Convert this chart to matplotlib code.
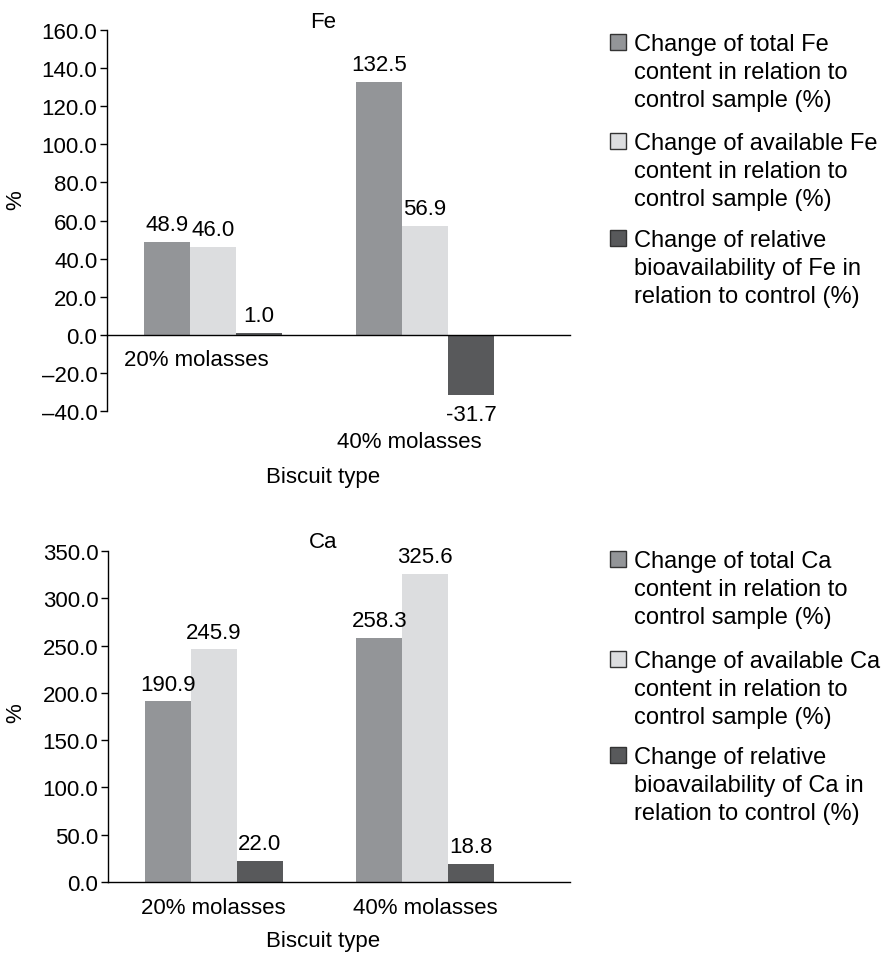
import numpy as np
import matplotlib.pyplot as plt
from matplotlib.patches import Rectangle

plt.rcParams['font.family'] = ['Liberation Sans', 'DejaVu Sans']
plt.rcParams['font.size'] = 16

categories = ['20% molasses', '40% molasses']
colors = ['#939598', '#dcdddf', '#58595b']

fe_total = [48.9, 132.5]
fe_available = [46.0, 56.9]
fe_relative = [1.0, -31.7]
fe_labels = ['Change of total Fe\ncontent in relation to\ncontrol sample (%)',
             'Change of available Fe\ncontent in relation to\ncontrol sample (%)',
             'Change of relative\nbioavailability of Fe in\nrelation to control (%)']

ca_total = [190.9, 258.3]
ca_available = [245.9, 325.6]
ca_relative = [22.0, 18.8]
ca_labels = ['Change of total Ca\ncontent in relation to\ncontrol sample (%)',
             'Change of available Ca\ncontent in relation to\ncontrol sample (%)',
             'Change of relative\nbioavailability of Ca in\nrelation to control (%)']

W, H = 887, 954
fig = plt.figure(figsize=(W / 100, H / 100), dpi=100)


def fx(px):
    return px / W


def fy(py):
    return 1 - py / H


def draw_bars(ax, series):
    x = np.arange(len(categories))
    w = 0.217
    for k, vals in enumerate(series):
        bars = ax.bar(x + (k - 1) * w, vals, w, color=colors[k], linewidth=0)
        for b, v in zip(bars, vals):
            if v >= 0:
                ax.annotate('%.1f' % v, (b.get_x() + b.get_width() / 2, v),
                            xytext=(0, 5), textcoords='offset points',
                            ha='center', va='bottom')
            else:
                ax.annotate('%.1f' % v, (b.get_x() + b.get_width() / 2, v),
                            xytext=(0, -6), textcoords='offset points',
                            ha='center', va='top')
    ax.set_xlim(-0.5, 1.684)
    for s in ['top', 'right']:
        ax.spines[s].set_visible(False)
    ax.spines['bottom'].set_position(('data', 0))
    ax.spines['left'].set_linewidth(1.0)
    ax.spines['bottom'].set_linewidth(1.0)
    ax.tick_params(axis='y', length=5, width=1.0, direction='out', pad=2)
    ax.yaxis.set_major_formatter(plt.FuncFormatter(lambda v, p: ('%.1f' % v).replace('-', '\u2013')))


def draw_legend(labels, baselines):
    # baseline of the first line of each entry, in pixels from top
    for k, (lab, yb) in enumerate(zip(labels, baselines)):
        fig.add_artist(Rectangle((fx(610), fy(yb + 1)), fx(626) - fx(610), (16 / H),
                                 transform=fig.transFigure, facecolor=colors[k],
                                 edgecolor='#333333', linewidth=1.0))
        fig.text(fx(634), fy(yb - 16), lab, ha='left', va='top', fontsize=17,
                 linespacing=1.36)


# Fe
ax1 = fig.add_axes([fx(107), fy(412), fx(570) - fx(107), (412 - 31) / H])
draw_bars(ax1, [fe_total, fe_available, fe_relative])
ax1.set_ylim(-40, 160)
ax1.set_yticks(np.arange(-40, 161, 20))
ax1.set_xticks([])
ax1.text(0 - 0.08, -7.6, categories[0], ha='center', va='top')
ax1.text(1 - 0.075, -50.5, categories[1], ha='center', va='top')
ax1.text(0.4665, 1.021, 'Fe', transform=ax1.transAxes, ha='center', va='center')
ax1.text(-0.197, 0.556, '%', transform=ax1.transAxes, ha='center', va='center', rotation=90)
ax1.set_xlabel('Biscuit type')
ax1.xaxis.set_label_coords(0.4665, -0.144)
draw_legend(fe_labels, [50, 149, 246])

# Ca
ax2 = fig.add_axes([fx(108), fy(883), fx(570) - fx(108), (883 - 552) / H])
draw_bars(ax2, [ca_total, ca_available, ca_relative])
ax2.set_ylim(0, 350)
ax2.set_yticks(np.arange(0, 351, 50))
ax2.set_xticks(np.arange(len(categories)))
ax2.set_xticklabels(categories)
ax2.tick_params(axis='x', length=0, pad=11)
ax2.text(0.465, 1.028, 'Ca', transform=ax2.transAxes, ha='center', va='center')
ax2.text(-0.199, 0.514, '%', transform=ax2.transAxes, ha='center', va='center', rotation=90)
ax2.set_xlabel('Biscuit type')
ax2.xaxis.set_label_coords(0.465, -0.145)
draw_legend(ca_labels, [567, 667, 763])

fig.savefig('out.png', dpi=100)
